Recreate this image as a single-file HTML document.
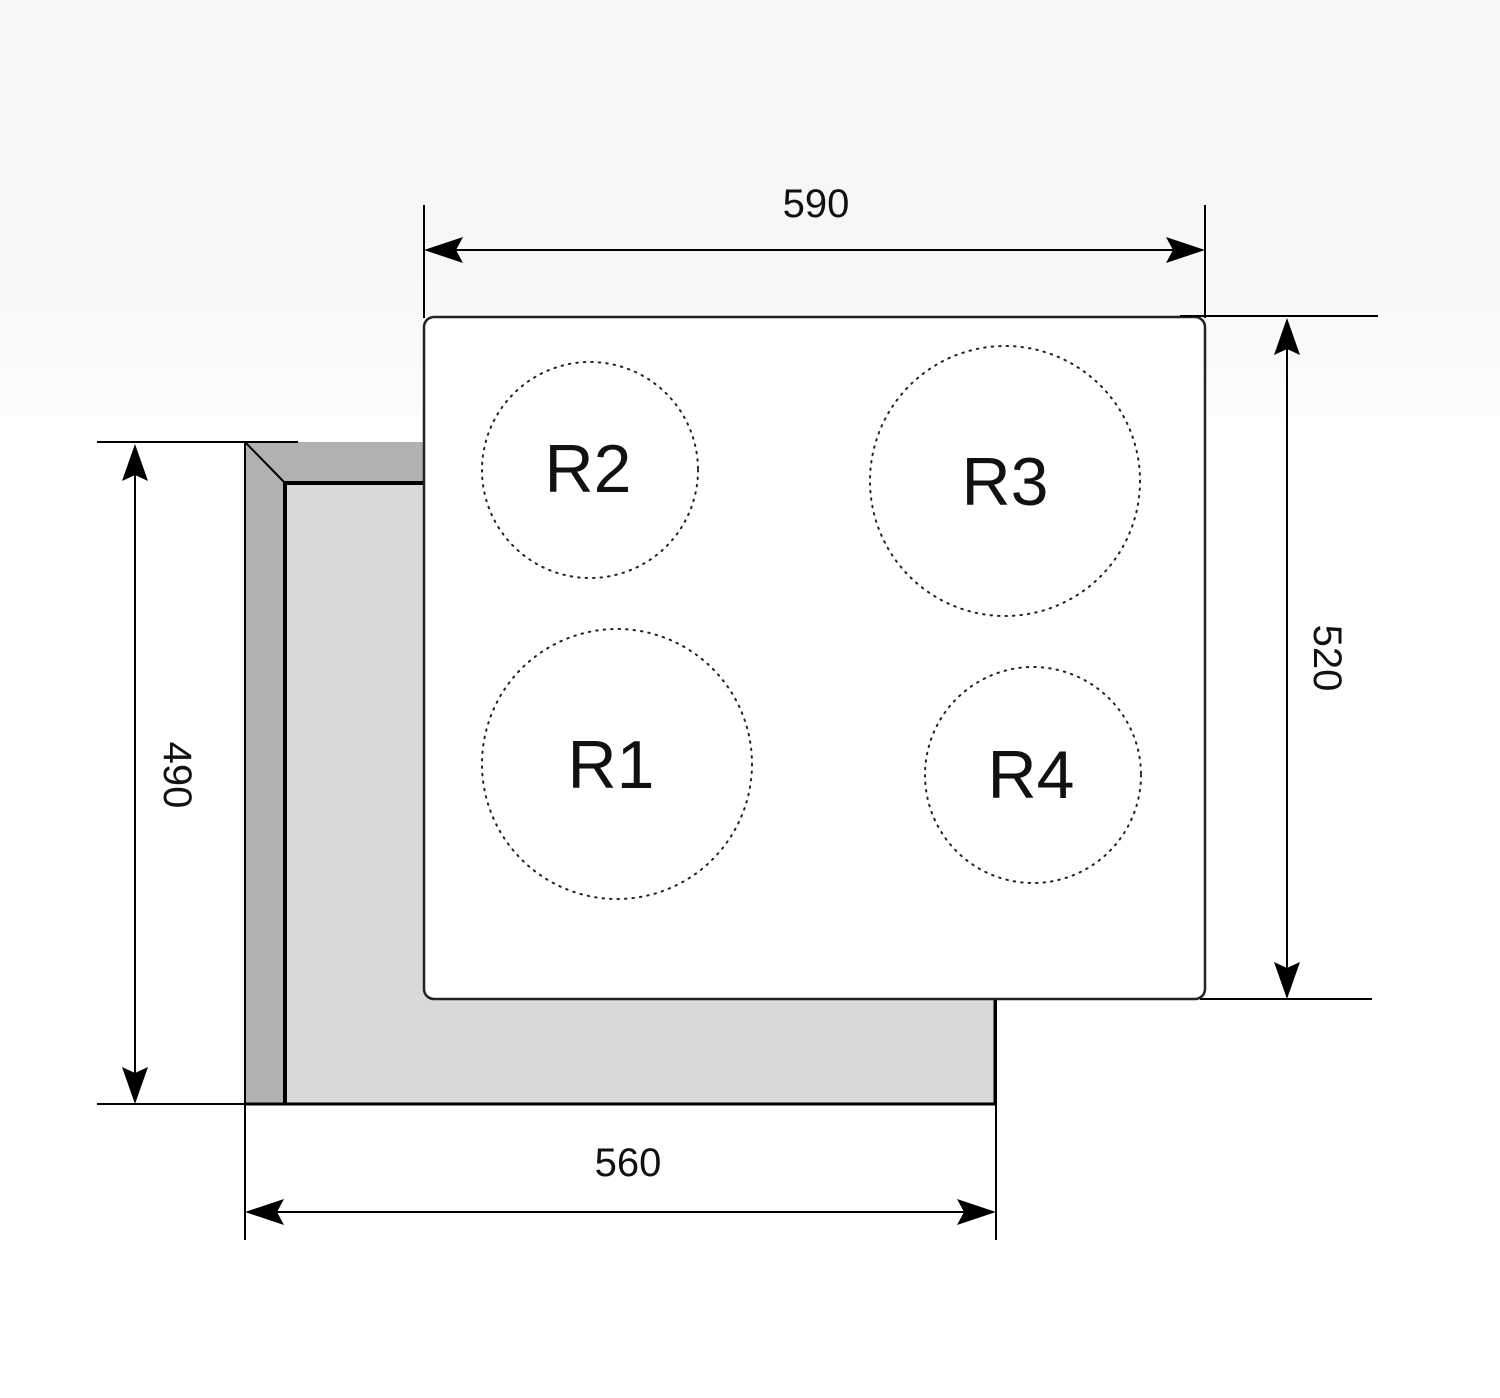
<!DOCTYPE html>
<html><head><style>
html,body{margin:0;padding:0;background:#fff}
svg{display:block}
text{font-family:"Liberation Sans",sans-serif;fill:#111}
</style></head><body>
<svg width="1500" height="1398" viewBox="0 0 1500 1398" xmlns="http://www.w3.org/2000/svg">
<defs>
<linearGradient id="bg" x1="0" y1="0" x2="0" y2="1">
<stop offset="0" stop-color="#f7f7f7"/><stop offset="1" stop-color="#fdfdfd"/>
</linearGradient>
</defs>
<rect x="0" y="0" width="1500" height="268" fill="#f7f7f7"/>
<rect x="0" y="268" width="1500" height="150" fill="url(#bg)"/>

<!-- under counter -->
<polygon points="245,442 424,442 424,1104 245,1104" fill="#b1b1b1"/>
<rect x="285" y="483" width="710" height="621" fill="#d9d9d9"/>
<g stroke="#000" fill="none">
<line x1="245" y1="442" x2="245" y2="1104" stroke-width="2"/>
<line x1="245" y1="442" x2="285" y2="483" stroke-width="2"/>
<line x1="285" y1="483" x2="285" y2="1104" stroke-width="4"/>
<line x1="285" y1="483" x2="424" y2="483" stroke-width="4"/>
<line x1="245" y1="1104" x2="996" y2="1104" stroke-width="3"/>
<line x1="995" y1="998" x2="995" y2="1104" stroke-width="3"/>
</g>

<!-- hob -->
<rect x="424" y="317" width="781" height="682" rx="10" fill="#fff" stroke="#222" stroke-width="2.5"/>

<!-- burners -->
<g fill="none" stroke="#222" stroke-width="2" stroke-dasharray="1.5 6" stroke-linecap="round">
<circle cx="590" cy="470" r="108"/>
<circle cx="1005" cy="481" r="135"/>
<circle cx="617" cy="764" r="135"/>
<circle cx="1033" cy="775" r="108"/>
</g>
<g font-size="68" text-anchor="middle">
<text x="588" y="492">R2</text>
<text x="1005" y="505">R3</text>
<text x="611" y="788">R1</text>
<text x="1031" y="798">R4</text>
</g>

<!-- dimension lines -->
<g stroke="#000" stroke-width="2" fill="none">
<line x1="424" y1="205" x2="424" y2="318"/>
<line x1="1205" y1="205" x2="1205" y2="318"/>
<line x1="440" y1="250" x2="1190" y2="250"/>
<line x1="1180" y1="316" x2="1378" y2="316"/>
<line x1="1200" y1="999" x2="1372" y2="999"/>
<line x1="1287" y1="335" x2="1287" y2="985"/>
<line x1="97" y1="442" x2="298" y2="442"/>
<line x1="97" y1="1104" x2="245" y2="1104"/>
<line x1="135" y1="460" x2="135" y2="1090"/>
<line x1="245" y1="1104" x2="245" y2="1240"/>
<line x1="996" y1="1000" x2="996" y2="1240"/>
<line x1="260" y1="1212" x2="985" y2="1212"/>
</g>
<g fill="#000">
<polygon points="424,250 463,237 456,250 463,263"/>
<polygon points="1205,250 1166,237 1173,250 1166,263"/>
<polygon points="1287,318 1274,355 1287,349 1300,355"/>
<polygon points="1287,999 1274,962 1287,968 1300,962"/>
<polygon points="135,444 122,481 135,475 148,481"/>
<polygon points="135,1104 122,1067 135,1073 148,1067"/>
<polygon points="245,1212 284,1199 277,1212 284,1225"/>
<polygon points="996,1212 957,1199 964,1212 957,1225"/>
</g>
<g font-size="40" text-anchor="middle">
<text x="816" y="217">590</text>
<text x="628" y="1176">560</text>
<text transform="translate(1314,658) rotate(90)">520</text>
<text transform="translate(164,775) rotate(90)">490</text>
</g>
</svg>
</body></html>
